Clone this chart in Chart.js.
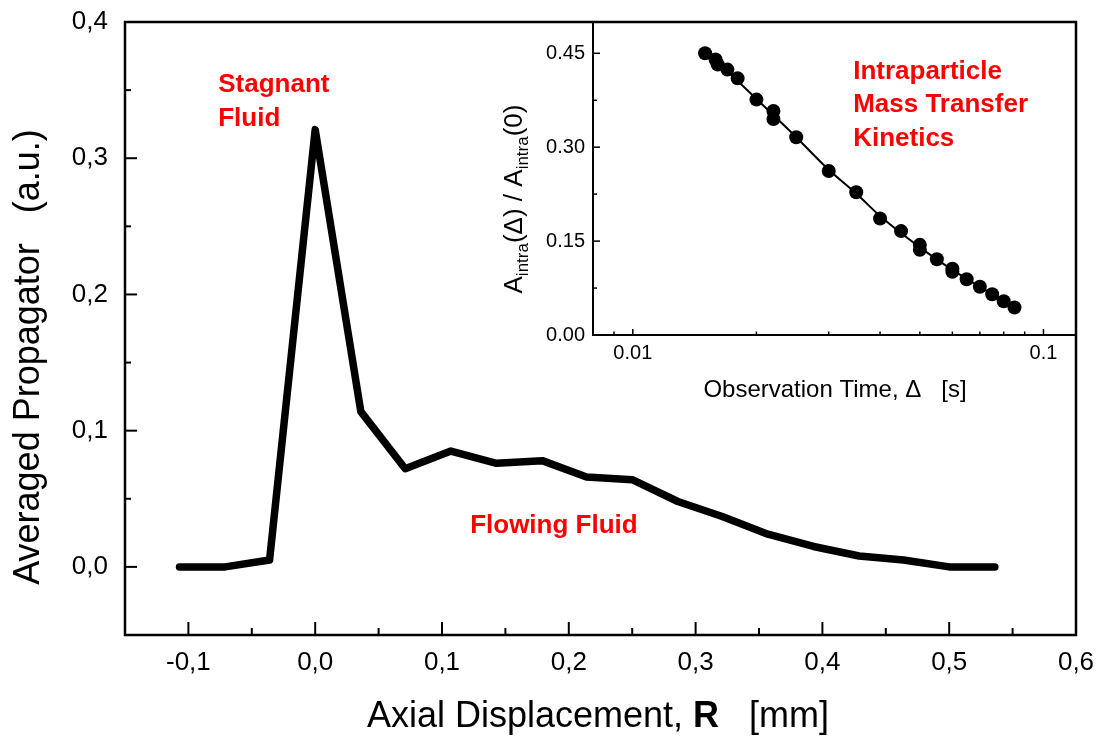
<!DOCTYPE html>
<html>
<head>
<meta charset="utf-8">
<style>
  body { margin: 0; background: #fff; }
  #wrap { position: relative; width: 1099px; height: 738px; }
  #wrap canvas { position: absolute; left: 0; top: 0; }
</style>
</head>
<body>
<div id="wrap">
  <canvas id="main" width="1099" height="738"></canvas>
  <canvas id="inset" width="1099" height="738"></canvas>
</div>

<script src="https://cdn.jsdelivr.net/npm/chart.js@4.4.0/dist/chart.umd.min.js"></script>
<script>
// main plot: averaged propagator vs axial displacement
const displacement = [-0.107, -0.071, -0.036, 0, 0.036, 0.071, 0.107, 0.143, 0.179, 0.214,
  0.25, 0.286, 0.321, 0.357, 0.393, 0.429, 0.464, 0.5, 0.536]
const propagator = [0.0, 0.0, 0.005, 0.321, 0.114, 0.072, 0.085, 0.076, 0.078, 0.066,
  0.064, 0.048, 0.037, 0.024, 0.015, 0.008, 0.005, 0.0, 0.0]
const xTicks = [-0.1, 0, 0.1, 0.2, 0.3, 0.4, 0.5, 0.6]
const xMinorTicks = [-0.05, 0.05, 0.15, 0.25, 0.35, 0.45, 0.55]
const yTicks = [0, 0.1, 0.2, 0.3, 0.4]
const yMinorTicks = [0.05, 0.15, 0.25, 0.35]

// inset: intraparticle amplitude vs observation time
const obsTime = [0.015, 0.0159, 0.0161, 0.017, 0.018, 0.02, 0.022, 0.022, 0.025, 0.03, 0.035,
  0.04, 0.045, 0.05, 0.05, 0.055, 0.06, 0.06, 0.065, 0.07, 0.075, 0.08, 0.085]
const ampRatio = [0.450, 0.440, 0.432, 0.424, 0.410, 0.376, 0.358, 0.345, 0.316, 0.262, 0.228,
  0.186, 0.166, 0.144, 0.136, 0.121, 0.106, 0.101, 0.089, 0.077, 0.065, 0.054, 0.044]
const fitTime = [0.015, 0.017, 0.02, 0.025, 0.03, 0.035, 0.04, 0.05, 0.06, 0.07, 0.085]
const fitRatio = [0.451, 0.421, 0.377, 0.316, 0.264, 0.226, 0.19, 0.14, 0.104, 0.077, 0.045]
const insetXTicks = [0.01, 0.1]
const insetXMinorTicks = [0.009, 0.02, 0.03, 0.04, 0.05, 0.06, 0.07, 0.08, 0.09]
const insetYTicks = [0, 0.15, 0.3, 0.45]
const insetYMinorTicks = [0.075, 0.225, 0.375]

const FONT = "'Liberation Sans', Arial, sans-serif"
const RED = '#ff0000'

function pts(xs, ys) {
  return xs.map((x, i) => ({ x, y: ys[i] }))
}

function drawRuns(ctx, runs, x, y, align, rotate) {
  ctx.save()
  ctx.translate(x, y)
  if (rotate) ctx.rotate(rotate)
  ctx.textBaseline = 'alphabetic'
  ctx.textAlign = 'left'
  let total = 0
  runs.forEach(r => {
    ctx.font = r.font
    r.w = ctx.measureText(r.text).width
    total += r.w
  })
  let cx = align === 'center' ? -total / 2 : 0
  runs.forEach(r => {
    ctx.font = r.font
    ctx.fillStyle = r.color || '#000'
    ctx.fillText(r.text, cx, r.dy || 0)
    cx += r.w
  })
  ctx.restore()
}

// keep the plot box where it is: no extra room for edge labels
function noEdgePad(s) {
  s.paddingTop = 0
  s.paddingBottom = 0
  s.paddingLeft = 0
  s.paddingRight = 0
}

// axis box + inward ticks
const frame = {
  id: 'frame',
  afterDatasetsDraw(chart, args, o) {
    const { ctx, chartArea: a } = chart
    const xs = chart.scales.x, ys = chart.scales.y
    ctx.save()
    ctx.strokeStyle = '#000'
    ctx.lineCap = 'butt'
    ctx.lineWidth = o.tickWidth
    let tick = (px, py, dx, dy) => {
      ctx.beginPath()
      ctx.moveTo(px, py)
      ctx.lineTo(px + dx, py + dy)
      ctx.stroke()
    }
    o.xMajor.forEach(v => tick(xs.getPixelForValue(v), a.bottom, 0, -o.xMajorLen))
    o.xMinor.forEach(v => tick(xs.getPixelForValue(v), a.bottom, 0, -o.xMinorLen))
    o.yMajor.forEach(v => tick(a.left, ys.getPixelForValue(v), o.yMajorLen, 0))
    o.yMinor.forEach(v => tick(a.left, ys.getPixelForValue(v), o.yMinorLen, 0))

    ctx.lineWidth = o.lineWidth
    ctx.lineJoin = 'miter'
    ctx.beginPath()
    if (o.full) {
      ctx.rect(a.left, a.top, a.right - a.left, a.bottom - a.top)
    } else {
      ctx.moveTo(a.left, a.top)
      ctx.lineTo(a.left, a.bottom)
      ctx.lineTo(a.right, a.bottom)
    }
    ctx.stroke()
    ctx.restore()
  }
}

// free text: axis titles and red notes
const notes = {
  id: 'notes',
  afterDraw(chart, args, o) {
    const ctx = chart.ctx
    const xs = chart.scales.x, ys = chart.scales.y
    o.items.forEach(it => {
      let x = it.px ? it.x : xs.getPixelForValue(it.x)
      let y = it.px ? it.y : ys.getPixelForValue(it.y)
      drawRuns(ctx, it.runs, x, y, it.align, it.rotate)
    })
  }
}

const red26 = 'bold 26px ' + FONT

new Chart(document.getElementById('main'), {
  type: 'scatter',
  data: {
    datasets: [{
      data: pts(displacement, propagator),
      showLine: true,
      borderColor: '#000',
      backgroundColor: '#000',
      borderWidth: 7.5,
      pointRadius: 0,
      borderJoinStyle: 'round',
      borderCapStyle: 'round',
      tension: 0,
    }]
  },
  options: {
    responsive: false,
    animation: false,
    devicePixelRatio: 1,
    events: [],
    layout: { padding: { top: 22, right: 23, left: 0, bottom: 0 } },
    plugins: {
      legend: { display: false },
      tooltip: { enabled: false },
      frame: {
        full: true, lineWidth: 2.5, tickWidth: 2,
        xMajor: xTicks, xMinor: xMinorTicks, yMajor: yTicks, yMinor: yMinorTicks,
        xMajorLen: 13, xMinorLen: 7, yMajorLen: 12, yMinorLen: 6,
      },
      notes: {
        items: [
          { px: true, x: 39, y: 357, align: 'center', rotate: -Math.PI / 2,
            runs: [{ text: 'Averaged Propagator   (a.u.)', font: '36px ' + FONT }] },
          { px: true, x: 598, y: 727, align: 'center',
            runs: [
              { text: 'Axial Displacement, ', font: '36px ' + FONT },
              { text: 'R', font: 'bold 36px ' + FONT },
              { text: '   [mm]', font: '36px ' + FONT },
            ] },
          { x: -0.0765, y: 0.3487, runs: [{ text: 'Stagnant', font: red26, color: RED }] },
          { x: -0.0765, y: 0.3238, runs: [{ text: 'Fluid', font: red26, color: RED }] },
          { x: 0.1222, y: 0.025, runs: [{ text: 'Flowing Fluid', font: red26, color: RED }] },
        ]
      }
    },
    scales: {
      x: {
        type: 'linear', min: -0.15, max: 0.6,
        afterBuildTicks: s => { s.ticks = xTicks.map(v => ({ value: v })) },
        afterFit: s => { s.height = 103; noEdgePad(s) },
        grid: { display: false, drawTicks: false },
        border: { display: false },
        ticks: {
          autoSkip: false, maxRotation: 0, padding: 12, color: '#000',
          font: { family: FONT, size: 26 },
          callback: v => v.toFixed(1).replace('.', ','),
        },
      },
      y: {
        type: 'linear', min: -0.05, max: 0.4,
        afterBuildTicks: s => { s.ticks = yTicks.map(v => ({ value: v })) },
        afterFit: s => { s.width = 125; noEdgePad(s) },
        grid: { display: false, drawTicks: false },
        border: { display: false },
        ticks: {
          padding: 17, color: '#000',
          font: { family: FONT, size: 26 },
          callback: v => v.toFixed(1).replace('.', ','),
        },
      },
    },
  },
  plugins: [frame, notes],
})

const sub17 = '17px ' + FONT
const reg26 = '26px ' + FONT

new Chart(document.getElementById('inset'), {
  type: 'scatter',
  data: {
    datasets: [{
      data: pts(obsTime, ampRatio),
      pointRadius: 7,
      pointBackgroundColor: '#000',
      pointBorderColor: '#000',
      pointBorderWidth: 0,
      showLine: false,
    }, {
      data: pts(fitTime, fitRatio),
      showLine: true,
      borderColor: '#000',
      borderWidth: 2,
      pointRadius: 0,
      cubicInterpolationMode: 'monotone',
    }]
  },
  options: {
    responsive: false,
    animation: false,
    devicePixelRatio: 1,
    events: [],
    layout: { padding: { top: 22, right: 23, left: 0, bottom: 0 } },
    plugins: {
      legend: { display: false },
      tooltip: { enabled: false },
      frame: {
        full: false, lineWidth: 2, tickWidth: 1.5,
        xMajor: insetXTicks, xMinor: insetXMinorTicks, yMajor: insetYTicks, yMinor: insetYMinorTicks,
        xMajorLen: 6, xMinorLen: 3.5, yMajorLen: 7, yMinorLen: 4,
      },
      notes: {
        items: [
          { px: true, x: 835, y: 397, align: 'center',
            runs: [{ text: 'Observation Time, \u0394   [s]', font: '24px ' + FONT }] },
          { px: true, x: 522, y: 199, align: 'center', rotate: -Math.PI / 2,
            runs: [
              { text: 'A', font: reg26 },
              { text: 'intra', font: sub17, dy: 6 },
              { text: '(\u0394) / A', font: reg26 },
              { text: 'intra', font: sub17, dy: 6 },
              { text: '(0)', font: reg26 },
            ] },
          { x: 0.0344, y: 0.4097, runs: [{ text: 'Intraparticle', font: red26, color: RED }] },
          { x: 0.0344, y: 0.3555, runs: [{ text: 'Mass Transfer', font: red26, color: RED }] },
          { x: 0.0344, y: 0.3013, runs: [{ text: 'Kinetics', font: red26, color: RED }] },
        ]
      }
    },
    scales: {
      x: {
        type: 'logarithmic', min: 0.008, max: 0.12,
        afterBuildTicks: s => { s.ticks = insetXTicks.map(v => ({ value: v })) },
        afterFit: s => { s.height = 403; noEdgePad(s) },
        grid: { display: false, drawTicks: false },
        border: { display: false },
        ticks: {
          autoSkip: false, maxRotation: 0, padding: 6, color: '#000',
          font: { family: FONT, size: 20 },
          callback: v => String(v),
        },
      },
      y: {
        type: 'linear', min: 0, max: 0.5,
        afterBuildTicks: s => { s.ticks = insetYTicks.map(v => ({ value: v })) },
        afterFit: s => { s.width = 593; noEdgePad(s) },
        grid: { display: false, drawTicks: false },
        border: { display: false },
        ticks: {
          padding: 8, color: '#000',
          font: { family: FONT, size: 20 },
          callback: v => v.toFixed(2),
        },
      },
    },
  },
  plugins: [frame, notes],
})
</script>
</body>
</html>
